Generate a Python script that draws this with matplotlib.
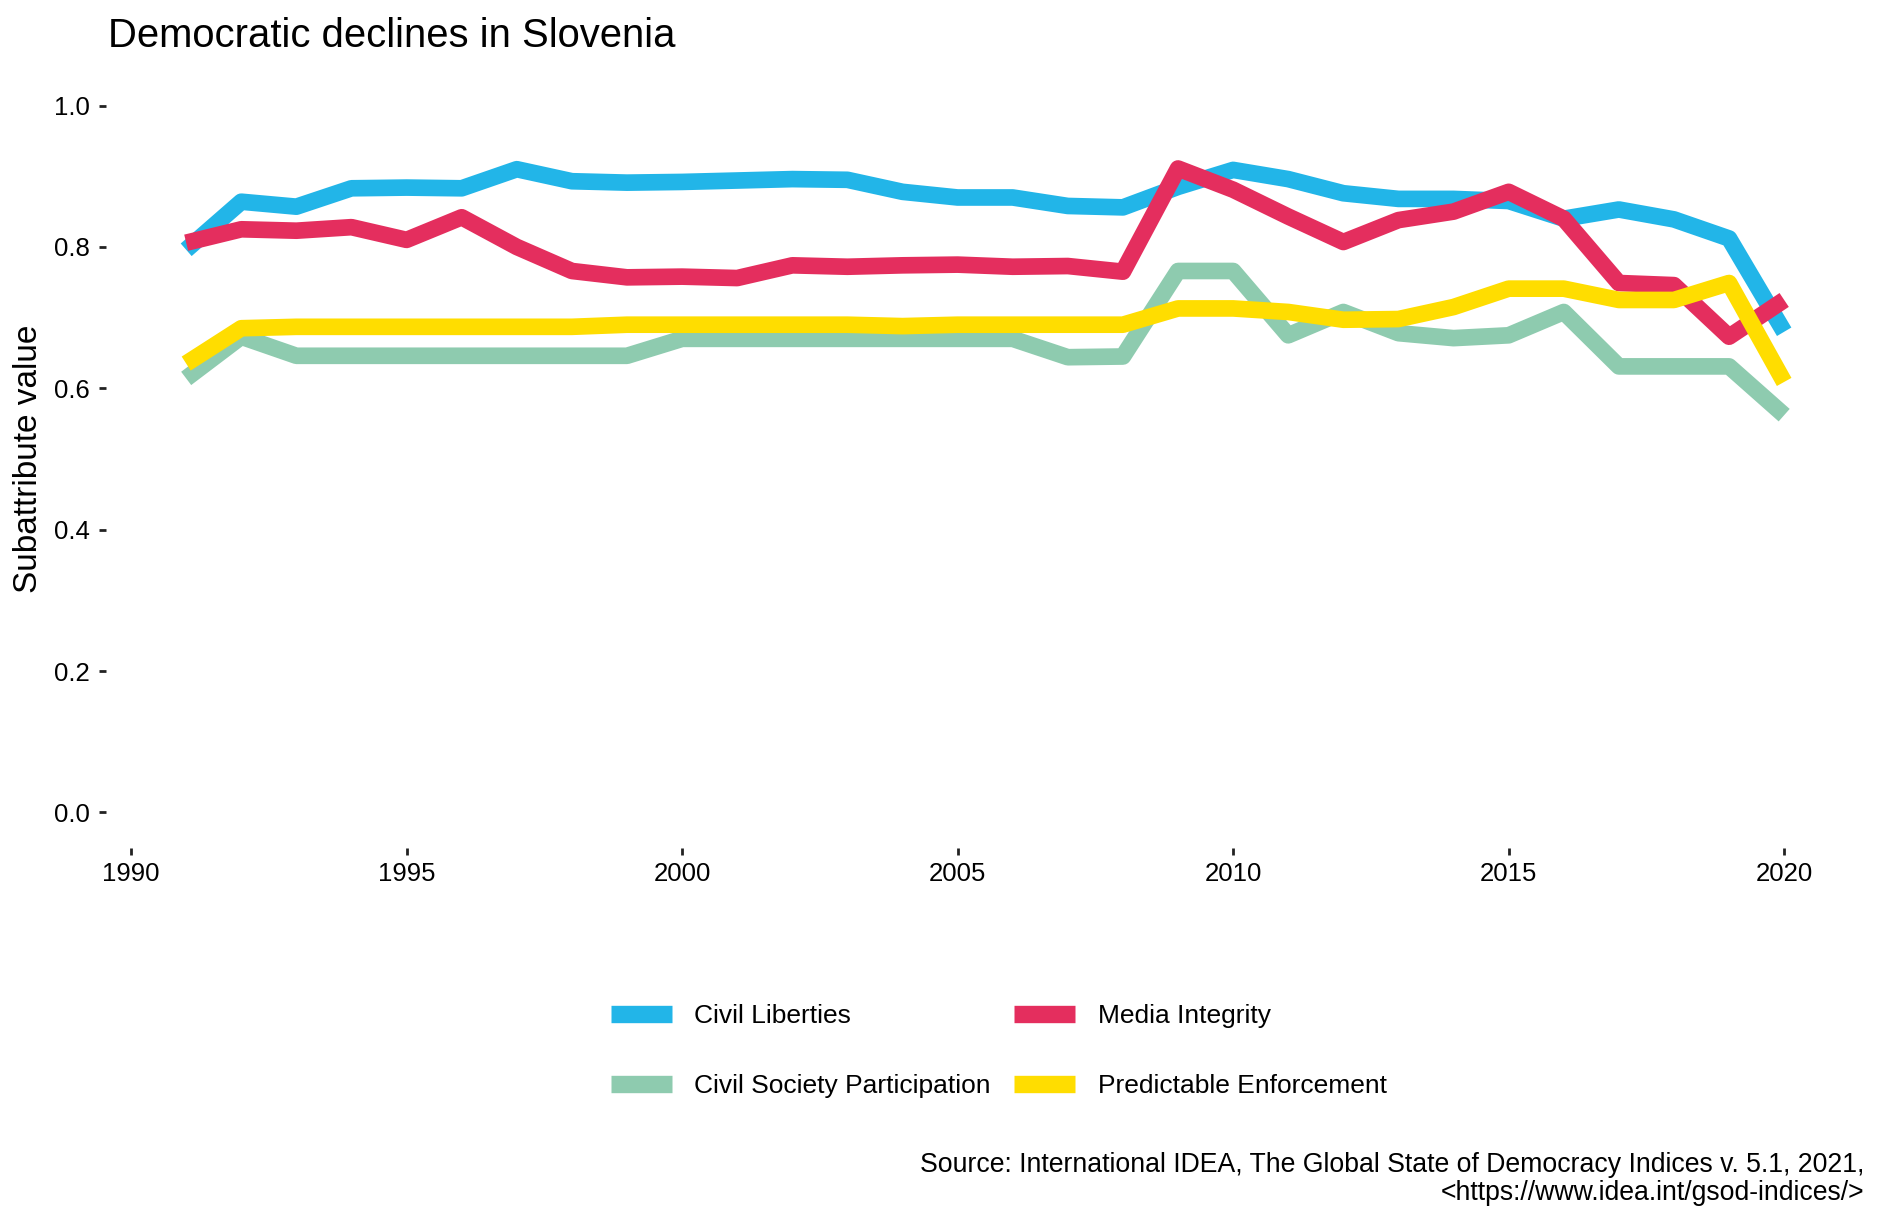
import matplotlib
matplotlib.use('Agg')
import matplotlib.pyplot as plt

plt.rcParams['font.family'] = ['Liberation Sans', 'DejaVu Sans']

years = [1991, 1992, 1993, 1994, 1995, 1996, 1997, 1998, 1999, 2000,
         2001, 2002, 2003, 2004, 2005, 2006, 2007, 2008, 2009, 2010,
         2011, 2012, 2013, 2014, 2015, 2016, 2017, 2018, 2019, 2020]

civil_liberties = [0.796, 0.864, 0.857, 0.883, 0.884, 0.883, 0.910, 0.893, 0.891, 0.892,
                   0.894, 0.896, 0.895, 0.878, 0.870, 0.870, 0.858, 0.856, 0.885, 0.909,
                   0.896, 0.876, 0.868, 0.868, 0.865, 0.840, 0.853, 0.839, 0.812, 0.680]
civil_society = [0.614, 0.673, 0.646, 0.646, 0.646, 0.646, 0.646, 0.646, 0.646, 0.670,
                 0.670, 0.670, 0.670, 0.670, 0.670, 0.670, 0.644, 0.645, 0.766, 0.766,
                 0.675, 0.708, 0.678, 0.671, 0.675, 0.708, 0.631, 0.631, 0.631, 0.562]
media_integrity = [0.806, 0.825, 0.823, 0.828, 0.810, 0.842, 0.800, 0.766, 0.757, 0.758,
                   0.756, 0.774, 0.772, 0.774, 0.775, 0.772, 0.773, 0.765, 0.911, 0.881,
                   0.843, 0.807, 0.838, 0.850, 0.878, 0.840, 0.749, 0.746, 0.673, 0.725]
predictable = [0.635, 0.685, 0.687, 0.687, 0.687, 0.687, 0.687, 0.687, 0.690, 0.690,
               0.690, 0.690, 0.690, 0.688, 0.690, 0.690, 0.690, 0.690, 0.713, 0.713,
               0.708, 0.697, 0.698, 0.715, 0.741, 0.741, 0.725, 0.725, 0.749, 0.609]

series = [
    ('Civil Liberties', civil_liberties, '#22b5e8'),
    ('Civil Society Participation', civil_society, '#8ecbaf'),
    ('Media Integrity', media_integrity, '#e42e5e'),
    ('Predictable Enforcement', predictable, '#ffdd00'),
]

fig = plt.figure(figsize=(18.81, 12.22), dpi=100)
ax = fig.add_axes([0.0565, 0.3063, 0.9345, 0.6362])

for name, vals, col in series:
    ax.plot(years, vals, color=col, lw=12, label=name,
            solid_capstyle='butt', solid_joinstyle='round')

ax.set_xlim(1989.55, 2021.45)
ax.set_ylim(-0.05, 1.05)
ax.set_xticks([1990, 1995, 2000, 2005, 2010, 2015, 2020])
ax.set_yticks([0.0, 0.2, 0.4, 0.6, 0.8, 1.0])
ax.set_yticklabels(['0.0', '0.2', '0.4', '0.6', '0.8', '1.0'])
for s in ax.spines.values():
    s.set_visible(False)
ax.tick_params(axis='both', labelsize=18.5, length=5, width=2, color='#222222')
ax.tick_params(axis='y', pad=7)
ax.tick_params(axis='x', pad=5)

ax.set_ylabel('Subattribute value', fontsize=24)
ax.yaxis.set_label_coords(-0.0353, 0.5)

fig.text(108 / 1881, 1 - 47 / 1222, 'Democratic declines in Slovenia',
         fontsize=28.8, ha='left', va='baseline')

leg = fig.legend(loc='center', bbox_to_anchor=(0.531, 0.14), ncol=2,
                 frameon=False, fontsize=19, handlelength=2.3,
                 handletextpad=0.85, columnspacing=0.9, labelspacing=1.75)
for h in leg.legend_handles:
    h.set_linewidth(12.5)

fig.text(1864 / 1881, 1 - 1179 / 1222,
         'Source: International IDEA, The Global State of Democracy Indices v. 5.1, 2021,\n<https://www.idea.int/gsod-indices/>',
         fontsize=19.2, ha='right', va='center', linespacing=1.1)

fig.savefig('out.png', dpi=100)
